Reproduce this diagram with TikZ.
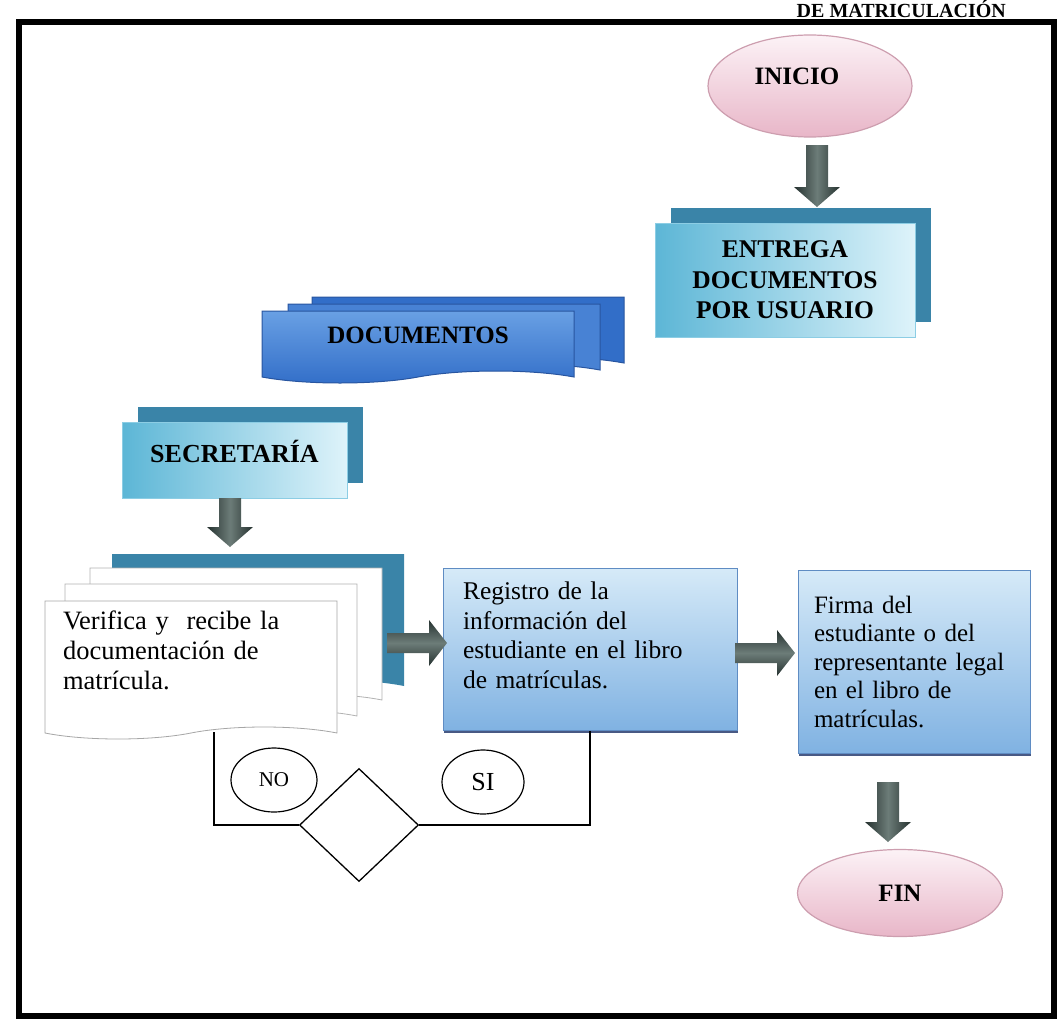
\documentclass[tikz,border=0pt]{standalone}
\usepackage{fontspec}
\setmainfont{Liberation Serif}
\usetikzlibrary{shapes.geometric,shapes.symbols,shadows,calc}

\definecolor{teal1}{RGB}{58,132,168}
\definecolor{pinkT}{RGB}{252,242,246}
\definecolor{pinkB}{RGB}{232,182,200}
\definecolor{pinkD}{RGB}{205,158,175}
\definecolor{cyanL}{RGB}{92,182,214}
\definecolor{cyanR}{RGB}{222,243,250}
\definecolor{cyanD}{RGB}{140,205,228}
\definecolor{docT}{RGB}{105,160,228}
\definecolor{docB}{RGB}{50,110,200}
\definecolor{docM}{RGB}{72,130,212}
\definecolor{docD}{RGB}{40,85,160}
\definecolor{boxT}{RGB}{214,234,248}
\definecolor{boxB}{RGB}{128,178,226}
\definecolor{boxD}{RGB}{95,140,195}
\definecolor{navy}{RGB}{40,60,110}
\definecolor{arrD}{RGB}{38,50,48}
\definecolor{arrL}{RGB}{108,124,120}

\begin{document}
\begin{tikzpicture}[x=1pt,y=-1pt,
  endpoint/.style={ellipse, top color=pinkT, bottom color=pinkB, draw=pinkD, line width=1.2pt,
    font=\bfseries\fontsize{25}{30}\selectfont, inner sep=0pt},
  cyanbox/.style={rectangle, left color=cyanL, right color=cyanR, draw=cyanD, line width=1pt,
    align=center, font=\bfseries\fontsize{25.5}{30.5}\selectfont,
    copy shadow={shadow xshift=16pt, shadow yshift=15pt, fill=teal1, draw=none}},
  bluebox/.style={rectangle, top color=boxT, bottom color=boxB, draw=boxD, line width=1pt,
    align=left, font=\fontsize{25.5}{29.5}\selectfont, inner xsep=20pt,
    drop shadow={shadow xshift=0.5pt, shadow yshift=-3pt, fill=navy, opacity=0.85}},
  docshape/.style={tape, tape bend top=none, tape bend bottom=in and out, tape bend height=12pt},
  bluedoc/.style={docshape, top color=docT, bottom color=docB, draw=docD, line width=1pt,
    font=\bfseries\fontsize{25}{30}\selectfont,
    copy shadow={shadow xshift=50pt, shadow yshift=14pt, fill=docB, draw=docD, line width=1pt},
    copy shadow={shadow xshift=26pt, shadow yshift=7pt, fill=docM, draw=docD, line width=1pt}},
  whitedoc/.style={docshape, fill=white, draw=black!35, line width=0.8pt,
    align=left, font=\fontsize{26.5}{30}\selectfont, inner xsep=18pt,
    copy shadow={shadow xshift=67pt, shadow yshift=47pt, fill=teal1, draw=none},
    copy shadow={shadow xshift=45pt, shadow yshift=33pt, fill=white, draw=black!30, line width=0.8pt},
    copy shadow={shadow xshift=20pt, shadow yshift=17pt, fill=white, draw=black!30, line width=0.8pt}},
  varrow/.style={left color=arrD, right color=arrD, middle color=arrL,
    to path={($(\tikztostart)+(-11,0)$) -- ($(\tikztotarget)+(-11,-20)$) -- ($(\tikztotarget)+(-23,-20)$)
      -- (\tikztotarget) -- ($(\tikztotarget)+(23,-20)$) -- ($(\tikztotarget)+(11,-20)$)
      -- ($(\tikztostart)+(11,0)$) -- cycle}},
  harrow/.style={top color=arrD, bottom color=arrD, middle color=arrL,
    to path={($(\tikztostart)+(0,-10)$) -- ($(\tikztotarget)+(-18,-10)$) -- ($(\tikztotarget)+(-18,-23)$)
      -- (\tikztotarget) -- ($(\tikztotarget)+(-18,23)$) -- ($(\tikztotarget)+(-18,10)$)
      -- ($(\tikztostart)+(0,10)$) -- cycle}},
  flow/.style={draw=black, line width=1.3pt},
  tag/.style={ellipse, draw=black, line width=1.2pt, inner sep=0pt}
]
\useasboundingbox (0,0) rectangle (1060,1020);

% frame and title
\draw[line width=6pt] (19,22) rectangle (1054,1016);
\node[anchor=base east, inner sep=0pt, font=\bfseries\fontsize{20}{24}\selectfont] (title) at (1006,17.5) {DE MATRICULACIÓN};

% nodes
\node[endpoint, minimum width=204pt, minimum height=102pt] (inicio) at (810,86) {\raisebox{20pt}{INICIO}\hspace*{26pt}};
\node[cyanbox, minimum width=260pt, minimum height=114pt] (entrega) at (785,280) {ENTREGA\\DOCUMENTOS\\POR USUARIO};
\node[bluedoc, minimum width=312pt, minimum height=72pt] (docs) at (418,341) {\raisebox{12pt}{DOCUMENTOS}};
\node[cyanbox, minimum width=225pt, minimum height=76pt, font=\bfseries\fontsize{26}{30}\selectfont] (secre) at (234.5,460) {\raisebox{18pt}{SECRETARÍA}};
\node[whitedoc, minimum width=292pt, minimum height=138pt, text width=256pt] (verif) at (191,664) {Verifica y\ \ recibe la\\documentación de\\matrícula.\\[-2pt]\mbox{}};
\node[bluebox, minimum width=294pt, minimum height=162pt, text width=254pt] (reg) at (590,649) {Registro de la\\información del\\estudiante en el libro\\de matrículas.\\[-2pt]\mbox{}};
\node[bluebox, minimum width=232pt, minimum height=183pt, inner xsep=16pt, text width=200pt, font=\fontsize{25}{28.5}\selectfont] (firma) at (914,661.5) {Firma del\\estudiante o del\\representante legal\\en el libro de\\matrículas.};
\node[endpoint, minimum width=205pt, minimum height=87pt] (fin) at (900,893) {FIN};

\node[diamond, draw=black, line width=1.3pt, minimum width=119pt, minimum height=113pt, inner sep=0pt] (dec) at (359,825) {};
\node[tag, minimum width=86pt, minimum height=64pt, font=\fontsize{21}{24}\selectfont] (no) at (274,780) {NO};
\node[tag, minimum width=82pt, minimum height=64pt, font=\fontsize{26}{28}\selectfont] (si) at (483,782) {SI};

% arrow end points
\coordinate (a1s) at (817,145);  \coordinate (a1e) at (817,207);
\coordinate (a2s) at (230,498);  \coordinate (a2e) at (230,547);
\coordinate (a3s) at (387,643);  \coordinate (a3e) at (447,643);
\coordinate (a4s) at (735,653);  \coordinate (a4e) at (795,653);
\coordinate (a5s) at (888,782);  \coordinate (a5e) at (888,842);
\coordinate (vdoc) at (214,732);

\path[varrow] (a1s) to (a1e);
\path[varrow] (a2s) to (a2e);
\path[harrow] (a3s) to (a3e);
\path[harrow] (a4s) to (a4e);
\path[varrow] (a5s) to (a5e);

% decision lines
\draw[flow] (vdoc) |- (dec.west);
\draw[flow] (dec.east) -| (reg.south);
\end{tikzpicture}
\end{document}
